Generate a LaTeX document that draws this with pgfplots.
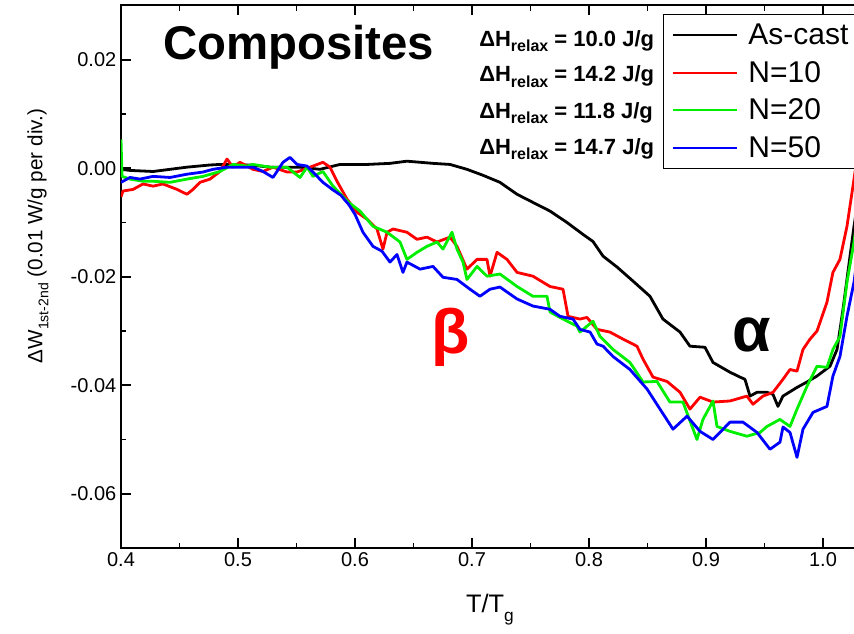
\documentclass[border=0pt]{standalone}
\usepackage{fontspec}
\setmainfont{Liberation Sans}
\usepackage{pgfplots}
\pgfplotsset{compat=1.18}
\definecolor{cred}{RGB}{255,0,0}
\definecolor{cgreen}{RGB}{0,238,0}
\definecolor{cblue}{RGB}{0,0,255}
\newcommand{\dH}{ΔH\raisebox{-0.45ex}{\fontsize{12}{12}\selectfont relax}}
\begin{document}
\begin{tikzpicture}
\useasboundingbox (-90.75pt,-64.5pt) rectangle (549.75pt,411pt);
\begin{axis}[
  at={(0,0)}, anchor=south west, scale only axis,
  width=561.6pt, height=406.875pt,
  xmin=0.4, xmax=1.04, ymin=-0.07, ymax=0.03,
  xtick={0.4,0.5,0.6,0.7,0.8,0.9,1.0},
  ytick={-0.06,-0.04,-0.02,0,0.02},
  minor x tick num=1, minor y tick num=1,
  axis line style={line width=1.5pt},
  tick style={line width=1.2pt, black},
  major tick length=7.5pt, minor tick length=4pt,
  tick align=inside,
  /pgf/number format/assume math mode=true,
  xticklabel style={font=\fontsize{15}{18}\selectfont, /pgf/number format/.cd, fixed, fixed zerofill, precision=1},
  yticklabel style={font=\fontsize{15}{18}\selectfont, /pgf/number format/.cd, fixed, fixed zerofill, precision=2},
  scaled y ticks=false,
  every axis y label/.style={at={(axis description cs:-0.1108,0.5751)}, rotate=90, anchor=center, font=\fontsize{15.5}{18}\selectfont},
  every axis x label/.style={at={(axis description cs:0.4928,-0.1198)}, anchor=base, font=\fontsize{19}{22}\selectfont},
  ylabel={ΔW\raisebox{-0.55ex}{\fontsize{10.5}{11}\selectfont 1st-2nd} (0.01 W/g per div.)},
  xlabel={T/T\raisebox{-0.6ex}{\fontsize{13}{13}\selectfont g}},
  legend style={at={(axis description cs:0.7238,0.9843)}, anchor=north west, draw=black, line width=1pt,
    font=\fontsize{22.5}{26}\selectfont, row sep=7pt, column sep=6pt, inner xsep=6pt, inner ysep=5pt, cells={anchor=west}},
  legend cell align=left,
  legend image code/.code={\draw[#1, line width=1.6pt] (0pt,0pt) -- (48pt,0pt);},
  every axis plot/.append style={line width=2.1pt, line join=round, no marks},
]
\addplot[black] coordinates {
(0.4000,-0.0002)(0.4077,-0.0004)(0.4274,-0.0006)(0.4419,-0.0002)(0.4564,0.0002)(0.4761,0.0006)(0.4846,0.0007)(0.5103,0.0006)(0.5274,0.0002)(0.5530,0.0002)(0.5701,-0.0002)(0.5872,0.0007)(0.6103,0.0007)(0.6299,0.0009)(0.6444,0.0013)(0.6667,0.0009)(0.6812,0.0007)(0.6957,-0.0002)(0.7094,-0.0013)(0.7239,-0.0026)(0.7385,-0.0048)(0.7521,-0.0063)(0.7667,-0.0079)(0.7812,-0.0100)(0.7949,-0.0122)(0.8034,-0.0135)(0.8120,-0.0162)(0.8239,-0.0182)(0.8376,-0.0208)(0.8521,-0.0236)(0.8632,-0.0278)(0.8778,-0.0302)(0.8863,-0.0328)(0.8991,-0.0330)(0.9060,-0.0358)(0.9205,-0.0376)(0.9291,-0.0385)(0.9333,-0.0389)(0.9376,-0.0420)(0.9436,-0.0413)(0.9521,-0.0413)(0.9573,-0.0417)(0.9615,-0.0439)(0.9658,-0.0420)(0.9778,-0.0404)(0.9863,-0.0394)(0.9949,-0.0383)(1.0060,-0.0365)(1.0120,-0.0334)(1.0171,-0.0260)(1.0231,-0.0162)(1.0265,-0.0107)(1.0320,-0.0030)
};
\addlegendentry{As-cast\hspace{4pt}}
\addplot[cred] coordinates {
(0.4000,-0.0053)(0.4017,-0.0042)(0.4103,-0.0039)(0.4188,-0.0029)(0.4274,-0.0033)(0.4359,-0.0029)(0.4479,-0.0039)(0.4564,-0.0048)(0.4615,-0.0039)(0.4675,-0.0026)(0.4761,-0.0020)(0.4846,-0.0006)(0.4906,0.0017)(0.4957,0.0002)(0.5017,0.0011)(0.5128,-0.0002)(0.5214,-0.0006)(0.5299,0.0002)(0.5419,-0.0007)(0.5504,-0.0007)(0.5641,0.0004)(0.5726,0.0011)(0.5786,0.0002)(0.5846,-0.0024)(0.5932,-0.0057)(0.6017,-0.0081)(0.6103,-0.0094)(0.6188,-0.0112)(0.6239,-0.0149)(0.6274,-0.0118)(0.6325,-0.0112)(0.6444,-0.0118)(0.6530,-0.0131)(0.6615,-0.0127)(0.6701,-0.0136)(0.6812,-0.0127)(0.6872,-0.0144)(0.6957,-0.0186)(0.7043,-0.0168)(0.7128,-0.0168)(0.7154,-0.0199)(0.7214,-0.0155)(0.7299,-0.0168)(0.7385,-0.0192)(0.7521,-0.0199)(0.7667,-0.0218)(0.7778,-0.0223)(0.7821,-0.0273)(0.7923,-0.0278)(0.7983,-0.0275)(0.8068,-0.0297)(0.8179,-0.0302)(0.8291,-0.0315)(0.8410,-0.0328)(0.8462,-0.0352)(0.8547,-0.0385)(0.8667,-0.0393)(0.8778,-0.0413)(0.8863,-0.0444)(0.8949,-0.0422)(0.9060,-0.0431)(0.9205,-0.0429)(0.9350,-0.0420)(0.9402,-0.0435)(0.9487,-0.0420)(0.9573,-0.0413)(0.9658,-0.0389)(0.9718,-0.0371)(0.9778,-0.0374)(0.9829,-0.0334)(0.9889,-0.0315)(0.9949,-0.0300)(1.0034,-0.0247)(1.0085,-0.0192)(1.0145,-0.0168)(1.0205,-0.0107)(1.0265,-0.0020)(1.0320,0.0060)
};
\addlegendentry{N=10}
\addplot[cgreen] coordinates {
(0.4000,0.0053)(0.4009,-0.0015)(0.4077,-0.0020)(0.4188,-0.0024)(0.4274,-0.0024)(0.4419,-0.0026)(0.4564,-0.0020)(0.4701,-0.0015)(0.4846,-0.0006)(0.4957,0.0007)(0.5077,0.0004)(0.5128,0.0007)(0.5274,0.0002)(0.5419,0.0002)(0.5530,-0.0017)(0.5590,0.0002)(0.5641,-0.0015)(0.5726,-0.0006)(0.5812,-0.0033)(0.5946,-0.0063)(0.6043,-0.0079)(0.6154,-0.0107)(0.6274,-0.0118)(0.6385,-0.0136)(0.6444,-0.0168)(0.6530,-0.0155)(0.6615,-0.0144)(0.6701,-0.0136)(0.6752,-0.0149)(0.6829,-0.0118)(0.6872,-0.0149)(0.6923,-0.0173)(0.6957,-0.0205)(0.7043,-0.0181)(0.7128,-0.0199)(0.7239,-0.0195)(0.7385,-0.0218)(0.7521,-0.0236)(0.7641,-0.0236)(0.7667,-0.0265)(0.7778,-0.0278)(0.7897,-0.0291)(0.7923,-0.0302)(0.8034,-0.0282)(0.8094,-0.0310)(0.8205,-0.0334)(0.8350,-0.0358)(0.8462,-0.0394)(0.8581,-0.0393)(0.8692,-0.0431)(0.8803,-0.0431)(0.8923,-0.0500)(0.8974,-0.0463)(0.9060,-0.0429)(0.9094,-0.0476)(0.9205,-0.0485)(0.9350,-0.0494)(0.9462,-0.0487)(0.9521,-0.0476)(0.9632,-0.0463)(0.9718,-0.0476)(0.9778,-0.0444)(0.9863,-0.0402)(0.9949,-0.0365)(1.0034,-0.0367)(1.0085,-0.0334)(1.0145,-0.0310)(1.0205,-0.0210)(1.0265,-0.0136)(1.0320,-0.0050)
};
\addlegendentry{N=20}
\addplot[cblue] coordinates {
(0.4000,-0.0026)(0.4077,-0.0017)(0.4162,-0.0020)(0.4274,-0.0015)(0.4419,-0.0017)(0.4564,-0.0011)(0.4701,-0.0007)(0.4786,-0.0002)(0.4906,0.0002)(0.5017,0.0002)(0.5128,0.0002)(0.5214,-0.0006)(0.5299,-0.0017)(0.5385,0.0011)(0.5444,0.0020)(0.5504,0.0007)(0.5590,0.0004)(0.5641,-0.0007)(0.5726,-0.0026)(0.5812,-0.0040)(0.5880,-0.0050)(0.5950,-0.0068)(0.6000,-0.0085)(0.6068,-0.0118)(0.6154,-0.0144)(0.6231,-0.0153)(0.6299,-0.0173)(0.6359,-0.0159)(0.6410,-0.0192)(0.6444,-0.0173)(0.6556,-0.0186)(0.6667,-0.0181)(0.6752,-0.0201)(0.6872,-0.0205)(0.6983,-0.0223)(0.7068,-0.0236)(0.7154,-0.0223)(0.7239,-0.0219)(0.7385,-0.0241)(0.7521,-0.0254)(0.7667,-0.0260)(0.7752,-0.0273)(0.7863,-0.0278)(0.7923,-0.0297)(0.8009,-0.0302)(0.8068,-0.0324)(0.8120,-0.0328)(0.8205,-0.0347)(0.8350,-0.0371)(0.8496,-0.0407)(0.8607,-0.0444)(0.8718,-0.0481)(0.8838,-0.0457)(0.8949,-0.0485)(0.9060,-0.0500)(0.9205,-0.0468)(0.9316,-0.0468)(0.9436,-0.0487)(0.9547,-0.0518)(0.9632,-0.0505)(0.9658,-0.0477)(0.9718,-0.0487)(0.9778,-0.0533)(0.9829,-0.0481)(0.9915,-0.0450)(1.0034,-0.0439)(1.0085,-0.0383)(1.0145,-0.0347)(1.0205,-0.0273)(1.0265,-0.0210)(1.0320,-0.0120)
};
\addlegendentry{N=50}
\node[anchor=base west, inner sep=0pt, font=\fontsize{35.5}{40}\selectfont\bfseries] at (axis cs:0.4359,0.0201) {Composites};
\node[anchor=base west, inner sep=0pt, font=\fontsize{16.5}{18}\selectfont\bfseries] at (axis cs:0.7060,0.0225) {\dH{} = 10.0 J/g};
\node[anchor=base west, inner sep=0pt, font=\fontsize{16.5}{18}\selectfont\bfseries] at (axis cs:0.7060,0.0159) {\dH{} = 14.2 J/g};
\node[anchor=base west, inner sep=0pt, font=\fontsize{16.5}{18}\selectfont\bfseries] at (axis cs:0.7060,0.0092) {\dH{} = 11.8 J/g};
\node[anchor=base west, inner sep=0pt, font=\fontsize{16.5}{18}\selectfont\bfseries] at (axis cs:0.7060,0.0026) {\dH{} = 14.7 J/g};
\node[font=\fontsize{47}{50}\selectfont\bfseries, text=cred] at (axis cs:0.682,-0.0312) {β};
\node[font=\fontsize{47}{50}\selectfont\bfseries, text=black] at (axis cs:0.9393,-0.0308) {α};
\end{axis}
\end{tikzpicture}
\end{document}
